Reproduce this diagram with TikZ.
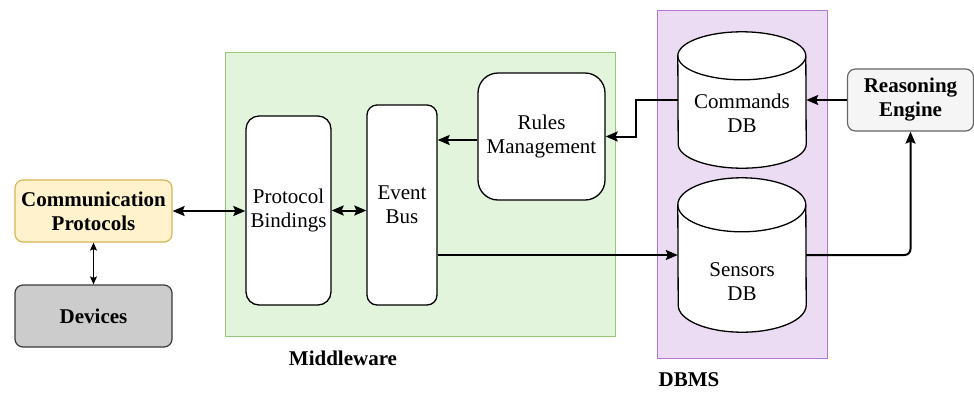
\documentclass[tikz,border=0pt]{standalone}
\usepackage{fontspec}
\setmainfont{Liberation Serif}
\usetikzlibrary{arrows.meta}
\newcommand{\diagfont}{\fontsize{21}{24}\selectfont}
\definecolor{mwfill}{HTML}{E2F4DC}
\definecolor{mwline}{HTML}{97C77B}
\definecolor{dbfill}{HTML}{ECDCF3}
\definecolor{dbline}{HTML}{B576D0}
\definecolor{cpfill}{HTML}{FFF2CC}
\definecolor{cpline}{HTML}{D6B656}
\definecolor{devfill}{HTML}{CCCCCC}
\definecolor{devline}{HTML}{36393D}
\definecolor{refill}{HTML}{F5F5F5}
\definecolor{reline}{HTML}{666666}
\tikzstyle{group}=[draw,line width=1pt,inner sep=0pt]
\tikzstyle{grouplabel}=[font=\diagfont\bfseries]
\tikzstyle{ext}=[draw,rounded corners=8pt,line width=1.2pt,align=center,inner sep=3pt,font=\diagfont\bfseries,minimum height=62pt]
\tikzstyle{block}=[draw=black,fill=white,line width=1.3pt,align=center,inner sep=3pt]
\tikzstyle{dbbox}=[inner sep=0pt,minimum width=128pt]
\tikzstyle{dbshape}=[draw=black,fill=white,line width=1.3pt]
\tikzstyle{dbtext}=[align=center]

\begin{document}
\begin{tikzpicture}[x=1pt,y=-1pt,font=\diagfont,>={Stealth[length=12pt,width=10pt,inset=2pt]}]
\useasboundingbox (0,0) rectangle (974,392);
% containers
\node[group,fill=mwfill,draw=mwline,minimum width=390pt,minimum height=284pt] at (420,194) (mw) {};
\node[group,fill=dbfill,draw=dbline,minimum width=170pt,minimum height=348pt] at (742,184) (dbms) {};
\node[grouplabel] at (343,358) (mwlabel) {Middleware};
\node[grouplabel] at (689,380) (dbmslabel) {DBMS};
% outside
\node[ext,fill=cpfill,draw=cpline,minimum width=157pt] at (93.5,211) (cp) {Communication\\Protocols};
\node[ext,fill=devfill,draw=devline,minimum width=157pt] at (93.5,316) (dev) {Devices};
\node[ext,fill=refill,draw=reline,minimum width=126pt] at (910.5,100) (re) {Reasoning\\Engine};
% middleware
\node[block,rounded corners=13pt,minimum width=85pt,minimum height=189pt] at (288.5,210.5) (pb) {Protocol\\Bindings};
\node[block,rounded corners=10pt,minimum width=70pt,minimum height=200pt] at (402,205) (eb) {Event\\Bus};
\node[block,rounded corners=20pt,minimum width=127pt,minimum height=127pt] at (541.5,136.5) (rm) {Rules\\Management};
% dbms cylinders
\node[dbbox,minimum height=136pt] at (742,100) (cmd) {};
\node[dbbox,minimum height=154pt] at (742,255) (sdb) {};
\foreach \db/\r in {cmd/24,sdb/27} {
  \draw[dbshape] ([yshift=-\r pt]\db.north west) arc[start angle=180,end angle=0,x radius=64pt,y radius=\r pt]
    -- ([yshift=\r pt]\db.south east) arc[start angle=0,end angle=-180,x radius=64pt,y radius=\r pt] -- cycle;
  \draw[dbshape,fill=none] ([yshift=-\r pt]\db.north west) arc[start angle=180,end angle=360,x radius=64pt,y radius=\r pt];
}
\node[dbtext] at (742,113) (cmdtext) {Commands\\DB};
\node[dbtext] at (742,282) (sdbtext) {Sensors\\DB};
% connectors
\draw[<->,line width=2pt] (cp.east) -- (cp.east -| pb.west);
\draw[<->,line width=1.2pt,>={Stealth[length=8pt,width=7pt,inset=1.5pt]}] (cp.south) -- (dev.north);
\draw[<->,line width=2pt] (pb.east) -- (pb.east -| eb.west);
\draw[->,line width=2pt] ([yshift=-3.5pt]rm.west) -- ([yshift=-3.5pt]rm.west -| eb.east);
\draw[->,line width=2pt] (cmd.west) -- ++(-42,0) |- (rm.east);
\draw[->,line width=2pt] (re.west) -- (re.west -| cmd.east);
\draw[->,line width=2pt] ([yshift=-50pt]eb.east) -- ([yshift=-50pt]eb.east -| sdb.west);
\draw[->,line width=2pt,rounded corners=6pt] (sdb.east) -| (re.south);
\end{tikzpicture}
\end{document}
